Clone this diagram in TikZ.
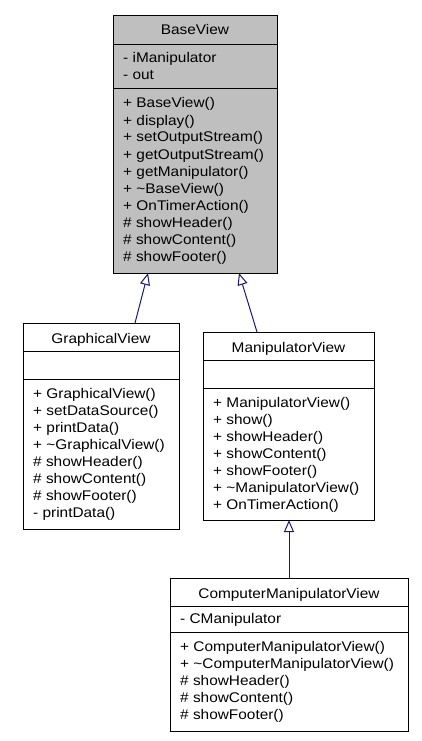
\documentclass[tikz,border=0pt]{standalone}
\usepackage{fontspec}
\newfontfamily\dox[FakeStretch=1.1]{Liberation Sans}
\usetikzlibrary{arrows.meta}
\definecolor{edgecol}{HTML}{191970}
\definecolor{basefill}{HTML}{BFBFBF}
\tikzset{
  cls/.style={draw=black, line width=1pt, fill=white, rectangle, inner sep=0pt, anchor=north west},
  ttl/.style={anchor=base, inner sep=0pt, font=\dox\fontsize{14}{17}\selectfont},
  mem/.style={anchor=base west, inner sep=0pt, font=\dox\fontsize{14}{17}\selectfont},
  sepline/.style={draw=black, line width=1pt},
  inh/.style={draw=edgecol, line width=1pt, -{Triangle[open, length=12pt, width=10pt, fill=white]}},
}
\begin{document}
\begin{tikzpicture}[x=1pt, y=-1pt]
\useasboundingbox (0,0) rectangle (422,741);

% ---------- BaseView ----------
\node[cls, fill=basefill, minimum width=164pt, minimum height=258pt] (bv) at (113,15) {};
\draw[sepline] (113,45) -- (277,45);
\draw[sepline] (113,89) -- (277,89);
\node[ttl] (bvt) at (195,35) {BaseView};
\node[mem] (bva1) at (123,62.5) {- iManipulator};
\node[mem] (bva2) at (123,79.5) {- out};
\foreach \t [count=\i] in {+ BaseView(), + display(), + setOutputStream(), + getOutputStream(), + getManipulator(), {+ \textasciitilde BaseView()}, + OnTimerAction(), {\# showHeader()}, {\# showContent()}, {\# showFooter()}}
  \node[mem] (bvm\i) at (123,{108+17*(\i-1)}) {\t};

% ---------- GraphicalView ----------
\node[cls, minimum width=156pt, minimum height=206pt] (gv) at (23,323) {};
\draw[sepline] (23,351) -- (179,351);
\draw[sepline] (23,379) -- (179,379);
\node[ttl] (gvt) at (101,343) {GraphicalView};
\foreach \t [count=\i] in {+ GraphicalView(), + setDataSource(), + printData(), {+ \textasciitilde GraphicalView()}, {\# showHeader()}, {\# showContent()}, {\# showFooter()}, - printData()}
  \node[mem] (gvm\i) at (33,{398+17*(\i-1)}) {\t};

% ---------- ManipulatorView ----------
\node[cls, minimum width=171pt, minimum height=188pt] (mv) at (203,332) {};
\draw[sepline] (203,360) -- (374,360);
\draw[sepline] (203,388) -- (374,388);
\node[ttl] (mvt) at (288.5,352) {ManipulatorView};
\foreach \t [count=\i] in {+ ManipulatorView(), + show(), + showHeader(), + showContent(), + showFooter(), {+ \textasciitilde ManipulatorView()}, + OnTimerAction()}
  \node[mem] (mvm\i) at (213,{407+17*(\i-1)}) {\t};

% ---------- ComputerManipulatorView ----------
\node[cls, minimum width=238pt, minimum height=153pt] (cmv) at (170,578) {};
\draw[sepline] (170,606) -- (408,606);
\draw[sepline] (170,632) -- (408,632);
\node[ttl] (cmvt) at (289,598) {ComputerManipulatorView};
\node[mem] (cmva1) at (180,623.5) {- CManipulator};
\foreach \t [count=\i] in {+ ComputerManipulatorView(), {+ \textasciitilde ComputerManipulatorView()}, {\# showHeader()}, {\# showContent()}, {\# showFooter()}}
  \node[mem] (cmvm\i) at (180,{651+17*(\i-1)}) {\t};

% ---------- inheritance connectors ----------
\coordinate (bvA) at (148,273);
\coordinate (bvB) at (239,273);
\coordinate (gvT) at (135,323);
\coordinate (mvT) at (257,332);
\coordinate (mvB) at (289,520);
\coordinate (cmvT) at (289,578);
\draw[inh] (gvT) -- (bvA);
\draw[inh] (mvT) -- (bvB);
\draw[inh] (cmvT) -- (mvB);
\end{tikzpicture}
\end{document}
